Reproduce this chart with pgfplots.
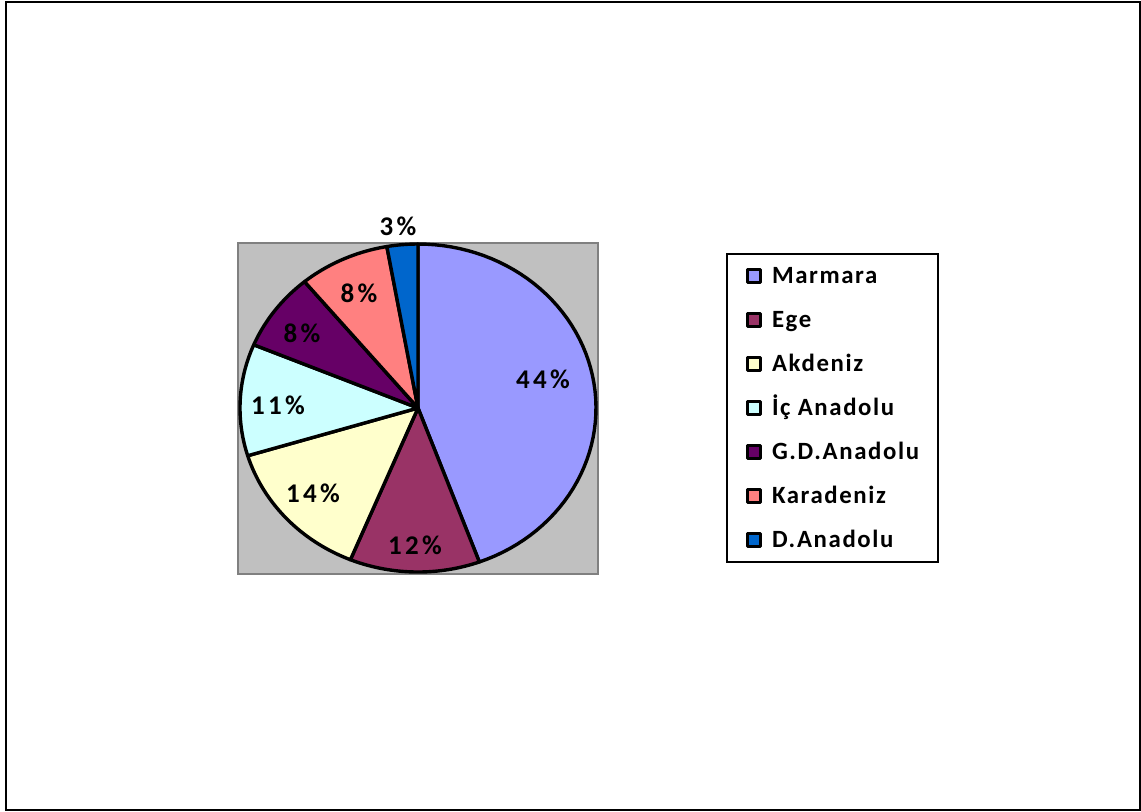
\documentclass[border=0pt]{standalone}
\usepackage{fontspec}
\setmainfont{Carlito}
\newfontfamily\lblfont{Carlito}[LetterSpace=12]
\newfontfamily\legfont{Carlito}[LetterSpace=6.5]
\usepackage{pgfplots}
\usepackage{pgfplotstable}
\pgfplotsset{compat=1.18}
\definecolor{c0}{HTML}{9999FF}
\definecolor{c1}{HTML}{993366}
\definecolor{c2}{HTML}{FFFFCC}
\definecolor{c3}{HTML}{CCFFFF}
\definecolor{c4}{HTML}{660066}
\definecolor{c5}{HTML}{FF8080}
\definecolor{c6}{HTML}{0066CC}
\definecolor{bggray}{HTML}{C0C0C0}
\definecolor{bgedge}{HTML}{808080}
\pgfplotstableread{
value
44.4
11.8
14.1
11.0
7.7
8.2
2.8
}\piedata
\newcommand{\lbl}{\lblfont\fontsize{13.5}{16}\selectfont\bfseries}
\begin{document}
\begin{tikzpicture}
\begin{axis}[hide axis, scale only axis, width=570.5pt, height=405.5pt,
  xmin=0, xmax=1141, ymin=0, ymax=811, y dir=reverse, clip=false,
  legend entries={Marmara, Ege, Akdeniz, İç Anadolu, G.D.Anadolu, Karadeniz, D.Anadolu},
  legend cell align=left,
  legend image code/.code={\draw[#1, draw=black, line width=1.5pt] (0pt,-3.2pt) rectangle (6.8pt,3.2pt);},
  legend style={at={(axis cs:726,253)}, anchor=north west, draw=black, line width=0.8pt,
    inner xsep=9.5pt, inner ysep=0pt, row sep=0pt,
    font=\legfont\fontsize{12.4}{14}\selectfont\bfseries,
    nodes={inner sep=0pt, text height=15pt, text depth=7pt},
    /tikz/every odd column/.append style={column sep=4.8pt}},
]
\path (axis cs:0,0) rectangle (axis cs:1141,811);
\draw[line width=1pt] (axis cs:6,2) rectangle (axis cs:1140,810);
\draw[fill=bggray, draw=bgedge, line width=1pt] (axis cs:238,243) rectangle (axis cs:598,574);
\xdef\cum{0}
\pgfplotsinvokeforeach{0,...,6}{%
  \pgfplotstablegetelem{#1}{value}\of\piedata
  \pgfmathsetmacro\angA{\cum*3.6}%
  \pgfmathsetmacro\newcum{\cum+\pgfplotsretval}%
  \pgfmathsetmacro\angB{\newcum*3.6}%
  \xdef\cum{\newcum}%
  \edef\temp{\noexpand\addplot[fill=c#1, draw=black, line width=1.7pt, line join=round, domain=\angA:\angB, samples=60] ({418+178*sin(x)},{408-164*cos(x)}) -- (axis cs:418,408) -- cycle;}%
  \temp
}
\node[font=\lbl] at (axis cs:543,379) {44\%};
\node[font=\lbl] at (axis cs:415,545) {12\%};
\node[font=\lbl] at (axis cs:313,493) {14\%};
\node[font=\lbl] at (axis cs:278,405) {11\%};
\node[font=\lbl] at (axis cs:302,333) {8\%};
\node[font=\lbl] at (axis cs:359,293) {8\%};
\node[font=\lbl] at (axis cs:398,226) {3\%};
\end{axis}
\end{tikzpicture}
\end{document}
